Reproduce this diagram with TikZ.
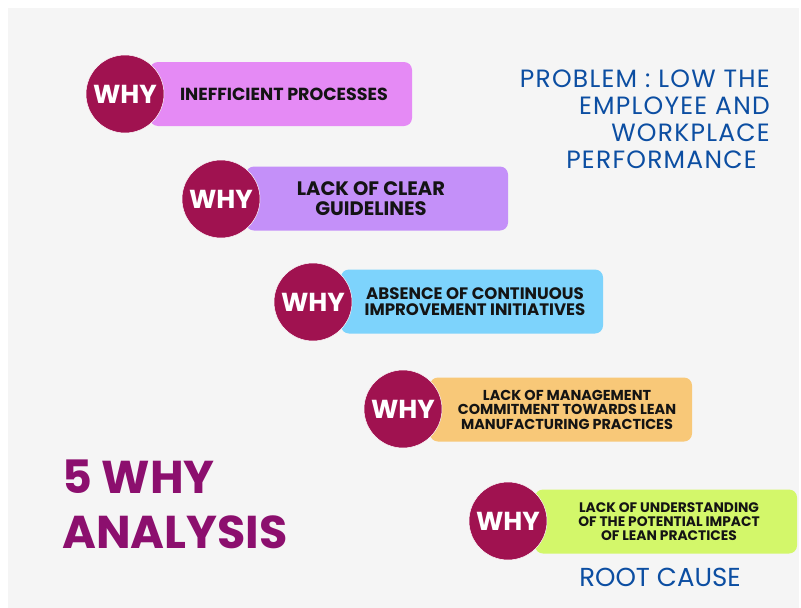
\documentclass[tikz,border=0pt]{standalone}
\usepackage{fontspec}
\setmainfont{Poppins}
\usepackage{tikz}
\definecolor{panel}{RGB}{245,245,245}
\definecolor{whyred}{RGB}{160,18,80}
\definecolor{titlepurple}{RGB}{140,15,110}
\definecolor{probblue}{RGB}{12,78,162}
\definecolor{causeA}{RGB}{229,138,245}
\definecolor{causeB}{RGB}{196,144,249}
\definecolor{causeC}{RGB}{125,211,252}
\definecolor{causeD}{RGB}{248,200,120}
\definecolor{causeE}{RGB}{211,247,106}

\begin{document}
\begin{tikzpicture}[x=1pt,y=-1pt,
		whycircle/.style={circle,fill=whyred,draw=white,line width=0.5pt,minimum size=78pt,inner sep=0pt,text=white,font=\fontsize{26}{26}\selectfont\bfseries},
		causebox/.style={rectangle,rounded corners=8pt,minimum width=262pt,minimum height=64pt,inner sep=0pt,align=center,text=black!92}]
		\useasboundingbox (0,0) rectangle (801,608);
		\fill[white] (0,0) rectangle (801,608);
		\fill[panel] (8,8) rectangle (799,608);
		% the five whys, each a pill with its circle on top
		\node[causebox,fill=causeA,font=\fontsize{17.5}{17.5}\selectfont\bfseries] (c1) at (281,94) {\hspace*{6pt}INEFFICIENT PROCESSES};
		\node[whycircle] (w1) at (125,94) {WHY};
		\node[causebox,fill=causeB,font=\fontsize{19.5}{20}\selectfont\bfseries] (c2) at (377,198.5) {\hspace*{-12pt}LACK OF CLEAR\\\hspace*{-12pt}GUIDELINES};
		\node[whycircle] (w2) at (221,199) {WHY};
		\node[causebox,fill=causeC,font=\fontsize{16.6}{16}\selectfont\bfseries] (c3) at (472,301.5) {\hspace*{6pt}ABSENCE OF CONTINUOUS\\\hspace*{6pt}IMPROVEMENT INITIATIVES};
		\node[whycircle] (w3) at (313,302) {WHY};
		\node[causebox,fill=causeD,font=\fontsize{14.4}{14.5}\selectfont\bfseries] (c4) at (561,409.5) {\hspace*{12pt}LACK OF MANAGEMENT\\\hspace*{12pt}COMMITMENT TOWARDS LEAN\\\hspace*{12pt}MANUFACTURING PRACTICES};
		\node[whycircle] (w4) at (403,409) {WHY};
		\node[causebox,fill=causeE,font=\fontsize{13.8}{14}\selectfont\bfseries] (c5) at (666,521.5) {\hspace*{6pt}LACK OF UNDERSTANDING\\\hspace*{6pt}OF THE POTENTIAL IMPACT\\\hspace*{6pt}OF LEAN PRACTICES};
		\node[whycircle] (w5) at (508,521) {WHY};
		% headings
		\node[anchor=north east,inner sep=0pt,align=right,text=probblue,font=\fontsize{25}{27}\selectfont\addfontfeature{LetterSpace=5}] (prob) at (770,70) {PROBLEM : LOW THE\\EMPLOYEE AND\\WORKPLACE\\PERFORMANCE\hspace*{13pt}};
		\node[anchor=north west,inner sep=0pt,align=left,text=titlepurple,font=\fontsize{46}{55}\selectfont\bfseries] (title) at (62,460) {5 WHY\\ANALYSIS};
		\node[anchor=north,inner sep=0pt,text=probblue,font=\fontsize{26}{26}\selectfont] (root) at (660,568) {ROOT CAUSE};
\end{tikzpicture}
\end{document}
